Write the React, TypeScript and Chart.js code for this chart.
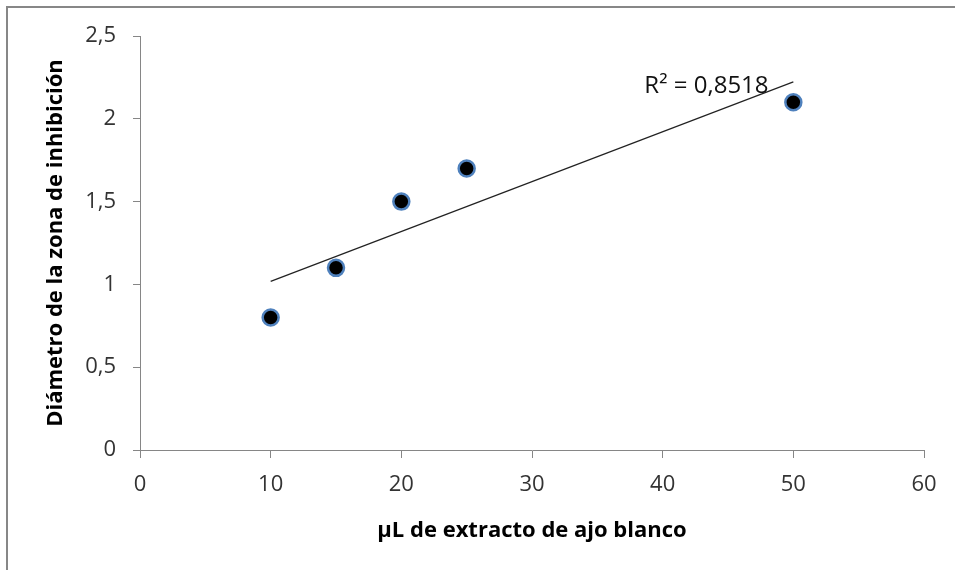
import React, { useEffect, useRef } from "react";
import { Chart, registerables } from "chart.js";

Chart.register(...registerables);

const xValues = [10, 15, 20, 25, 50];
const yValues = [0.8, 1.1, 1.5, 1.7, 2.1];
const xTitle = "µL de extracto de ajo blanco";
const yTitle = "Diámetro de la zona de inhibición";
const r2Label = "R² = 0,8518";
const r2LabelPos = [38.6, 2.2];

function fit(xs: number[], ys: number[]) {
  const n = xs.length;
  const mx = xs.reduce((a, b) => a + b, 0) / n;
  const my = ys.reduce((a, b) => a + b, 0) / n;
  let sxy = 0, sxx = 0;
  for (let i = 0; i < n; i++) {
    sxy += (xs[i] - mx) * (ys[i] - my);
    sxx += (xs[i] - mx) * (xs[i] - mx);
  }
  const m = sxy / sxx;
  return { m, b: my - m * mx };
}

const FONT = "'Open Sans', Lato, sans-serif";

export default function App() {
  const ref = useRef<HTMLCanvasElement>(null);
  useEffect(() => {
    const { m, b } = fit(xValues, yValues);
    const xMin = Math.min(...xValues);
    const xMax = Math.max(...xValues);
    const trend = [
      { x: xMin, y: m * xMin + b },
      { x: xMax, y: m * xMax + b },
    ];
    const framePlugin = {
      id: "frame",
      afterDraw(chart: any) {
        const ctx = chart.ctx;
        ctx.save();
        ctx.strokeStyle = "#878787";
        ctx.lineWidth = 2;
        ctx.strokeRect(7, 7, 2000, 2000);
        const xs = chart.scales.x;
        const ys = chart.scales.y;
        ctx.fillStyle = "#111";
        ctx.font = `24px ${FONT}`;
        ctx.textBaseline = "middle";
        ctx.textAlign = "left";
        ctx.fillText(r2Label, xs.getPixelForValue(r2LabelPos[0]), ys.getPixelForValue(r2LabelPos[1]));
        ctx.restore();
      },
    };
    const chart = new Chart(ref.current!, {
      type: "scatter",
      data: {
        datasets: [
          {
            type: "line",
            data: trend,
            borderColor: "#222",
            borderWidth: 1.2,
            pointRadius: 0,
            fill: false,
          } as any,
          {
            data: xValues.map((x, i) => ({ x, y: yValues[i] })),
            backgroundColor: "#000",
            borderColor: "#4f81bd",
            borderWidth: 2.5,
            pointRadius: 8,
          },
        ],
      },
      options: {
        animation: false,
        responsive: false,
        layout: { padding: { top: 36, right: 31, left: 0, bottom: 0 } },
        plugins: { legend: { display: false }, tooltip: { enabled: false } },
        scales: {
          x: {
            type: "linear",
            min: 0,
            max: 60,
            ticks: { stepSize: 10, color: "#333", font: { family: FONT, size: 22 }, padding: 14 },
            grid: { drawOnChartArea: false, color: "#868686", tickLength: 8 },
            border: { color: "#868686" },
            title: {
              display: true,
              text: xTitle,
              color: "#000",
              font: { family: FONT, size: 22, weight: "bold" },
              padding: { bottom: 26, top: 0 },
            },
            afterFit(scale: any) { scale.height = 120; },
          },
          y: {
            min: 0,
            max: 2.5,
            ticks: {
              stepSize: 0.5,
              color: "#333",
              font: { family: FONT, size: 22 },
              padding: 17,
              callback: (v: any) => String(v).replace(".", ","),
            },
            grid: { drawOnChartArea: false, color: "#868686", tickLength: 7 },
            border: { color: "#868686" },
            title: {
              display: true,
              text: yTitle,
              color: "#000",
              font: { family: FONT, size: 22, weight: "bold" },
              padding: { top: 43, bottom: 0 },
            },
            afterFit(scale: any) { scale.width = 140; },
          },
        },
      },
      plugins: [framePlugin],
    });
    return () => chart.destroy();
  }, []);
  return (
    <div style={{ position: "fixed", left: 0, top: 0, width: 955, height: 570, background: "#fff" }}>
      <canvas ref={ref} width={955} height={570} style={{ display: "block" }} />
    </div>
  );
}
